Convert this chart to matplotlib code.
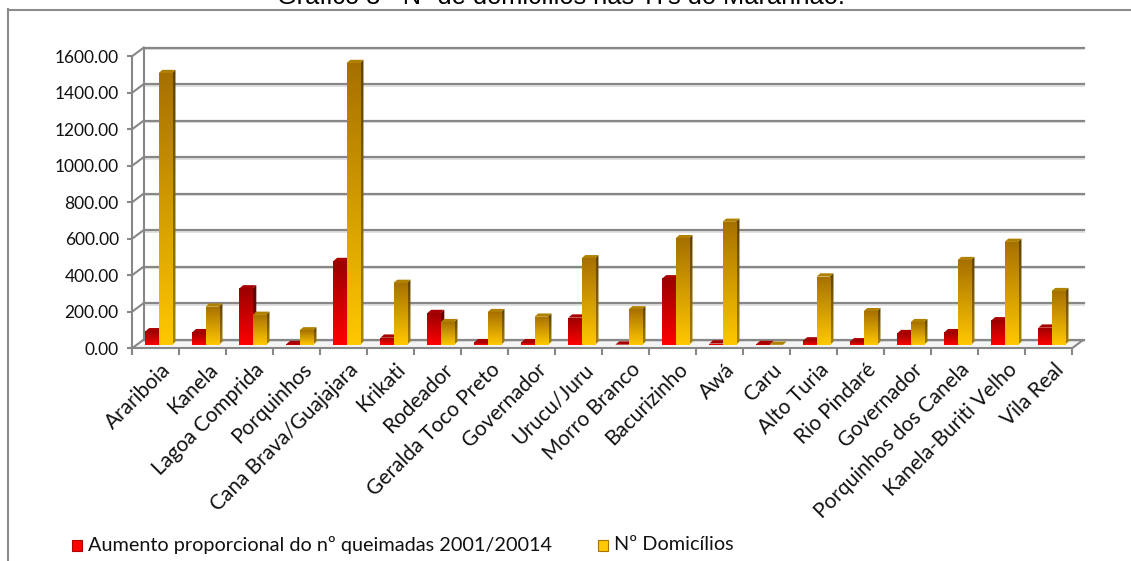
import numpy as np
import matplotlib
matplotlib.use('Agg')
import matplotlib.pyplot as plt
import matplotlib.transforms as mtrans
from matplotlib.patches import Rectangle, Polygon
from matplotlib.lines import Line2D
from matplotlib.colors import LinearSegmentedColormap

# ---------------- data ----------------
categories = ["Arariboia", "Kanela", "Lagoa Comprida", "Porquinhos", "Cana Brava/Guajajara",
              "Krikati", "Rodeador", "Geralda Toco Preto", "Governador", "Urucu/Juru",
              "Morro Branco", "Bacurizinho", "Awá", "Caru", "Alto Turia", "Rio Pindaré",
              "Governador", "Porquinhos dos Canela", "Kanela-Buriti Velho", "Vila Real"]
queimadas = [75, 70, 310, 5, 460, 40, 175, 15, 15, 150, 2, 365, 8, 5, 25, 20, 65, 70, 135, 95]
domicilios = [1490, 210, 165, 80, 1545, 340, 125, 180, 155, 475, 195, 585, 675, 1, 375, 185, 125, 465, 565, 295]
yticks = [0, 200, 400, 600, 800, 1000, 1200, 1400, 1600]
series_names = ["Aumento proporcional do nº queimadas 2001/20014", "Nº Domicílios"]
title = "Gráfico 3 - Nº de domicílios nas TI's do Maranhão."

W, H = 1131, 561
fig = plt.figure(figsize=(W / 100, H / 100), dpi=100)
fig.patch.set_facecolor('white')

def rect_px(x0, y0, x1, y1):
    return [x0 / W, 1 - y1 / H, (x1 - x0) / W, (y1 - y0) / H]

SLOT = 47.0          # px per category
UPP = 5.48           # value units per px
XMIN, XMAX = -0.5, 19.9
YMIN, YMAX = -70, 1720
zero_px = 348.3
ax = fig.add_axes(rect_px(132, zero_px - YMAX / UPP, 132 + (XMAX - XMIN) * SLOT, zero_px - YMIN / UPP))
ax.set_autoscale_on(False)
ax.set_xlim(XMIN, XMAX)
ax.set_ylim(YMIN, YMAX)
ax.patch.set_alpha(0)

n = len(categories)
x = np.arange(n)
FDX, FDY = 0.25, 48      # floor depth offset
BDX, BDY = 0.08, 18      # bar depth
BASE = 18                # bars rest inside the floor
BW = 0.28
grid_c = '#878787'

# floor
ax.add_patch(Polygon([(-0.5, 0), (n - 0.5, 0), (n - 0.5 + FDX, FDY), (-0.5 + FDX, FDY)],
                     closed=True, facecolor='#f4f4f4', edgecolor='none', zorder=1))
ax.plot([n - 0.5, n - 0.5 + FDX], [0, FDY], color=grid_c, lw=1.5, zorder=1.5, solid_capstyle='butt')
# back wall gridlines + left wall diagonals
for v in yticks:
    ax.plot([-0.5 + FDX, n - 0.5 + FDX], [v + FDY - 1.6 * UPP, v + FDY - 1.6 * UPP], color='#dcdcdc', lw=1.2, zorder=1)
    ax.plot([-0.5 + FDX, n - 0.5 + FDX], [v + FDY, v + FDY], color=grid_c, lw=1.6, zorder=1.2)
    ax.plot([-0.5, -0.5 + FDX], [v, v + FDY], color=grid_c, lw=1.5, zorder=1.2)
ax.plot([-0.5 + FDX, -0.5 + FDX], [FDY, yticks[-1] + FDY], color=grid_c, lw=1.5, zorder=1.2)

grad = np.linspace(0, 1, 256).reshape(-1, 1)

def cmap(c_bottom, c_top):
    return LinearSegmentedColormap.from_list('g', [c_bottom, c_top])

styles = [
    dict(front=cmap('#ff0000', '#9a0000'), side=cmap('#a00000', '#5c0000'), top='#a80000', off=-0.215, z=3),
    dict(front=cmap('#ffc800', '#a67000'), side=cmap('#a88000', '#5e4200'), top='#b08000', off=0.065, z=4),
]

def fill_grad(patch, ext, cm, z):
    im = ax.imshow(grad, extent=ext, origin='lower', cmap=cm, aspect='auto',
                   interpolation='bilinear', zorder=z)
    im.set_clip_path(patch)

for vals, st in zip([queimadas, domicilios], styles):
    xs = x + st['off']
    bars = ax.bar(xs, vals, width=BW, bottom=BASE, align='edge', color='none', edgecolor='none', zorder=st['z'])
    for b, xl, v in zip(bars, xs, vals):
        top_y = BASE + v
        side = Polygon([(xl + BW, BASE), (xl + BW + BDX, BASE + BDY), (xl + BW + BDX, top_y + BDY), (xl + BW, top_y)],
                       closed=True, facecolor='none', edgecolor='none', zorder=st['z'])
        ax.add_patch(side)
        fill_grad(side, (xl + BW, xl + BW + BDX, BASE, top_y + BDY), st['side'], st['z'])
        ax.add_patch(Polygon([(xl, top_y), (xl + BDX, top_y + BDY), (xl + BW + BDX, top_y + BDY), (xl + BW, top_y)],
                             closed=True, facecolor=st['top'], edgecolor='none', zorder=st['z']))
        if v > 0:
            fill_grad(b, (xl, xl + BW, BASE, top_y), st['front'], st['z'] + 0.01)

# axes spines / ticks
for s in ['top', 'right']:
    ax.spines[s].set_visible(False)
ax.spines['bottom'].set_position(('data', 0))
ax.spines['bottom'].set_bounds(-0.5, n - 0.5)
ax.spines['left'].set_bounds(0, yticks[-1])
for s in ['bottom', 'left']:
    ax.spines[s].set_color(grid_c)
    ax.spines[s].set_linewidth(1.5)
    ax.spines[s].set_zorder(1.5)

ax.set_yticks(yticks)
ax.set_yticklabels([f"{v:.2f}" for v in yticks], fontsize=12.5, family='Lato', color='#111111')
ax.tick_params(axis='y', length=3.5, width=1.5, color=grid_c, pad=6)

ax.set_xticks(x)
ax.set_xticklabels(categories, rotation=45, ha='right', rotation_mode='anchor',
                   fontsize=15, family='Lato', color='#111111')
ax.tick_params(axis='x', which='major', length=0, pad=8)
ax.set_xticks(np.arange(-0.5, n, 1.0), minor=True)
ax.tick_params(axis='x', which='minor', length=5, width=1.5, color=grid_c)
offs = mtrans.ScaledTranslation(5 / 100, 0, fig.dpi_scale_trans)
for lbl in ax.get_xticklabels():
    lbl.set_transform(lbl.get_transform() + offs)

# title (mostly cropped at the top edge)
fig.text(561 / W, 1 - 4 / H, title, ha='center', va='baseline', fontsize=18.3, family='Liberation Sans', color='#000000')

# outer frame
fig.add_artist(Line2D([8.3 / W, 8.3 / W], [1 - 9 / H, 0], transform=fig.transFigure, color='#8c8c8c', lw=1.5))
fig.add_artist(Line2D([8.3 / W, 1.0], [1 - 9.5 / H, 1 - 9.5 / H], transform=fig.transFigure, color='#8c8c8c', lw=1.5))

# legend
leg_items = [(72, series_names[0], ('#ff0000', '#b00000')), (598, series_names[1], ('#ffc800', '#a87400'))]
for lx, name, (cb, ct) in leg_items:
    r = Rectangle((lx / W, 1 - 551 / H), 10 / W, 11 / H, transform=fig.transFigure,
                  facecolor=cb, edgecolor=ct, lw=0.8)
    fig.add_artist(r)
    fig.text((lx + 16) / W, 1 - 550.5 / H, name, ha='left', va='baseline', fontsize=14.3,
             family='Lato', color='#111111')

fig.savefig('out.png', dpi=100, facecolor='white')
